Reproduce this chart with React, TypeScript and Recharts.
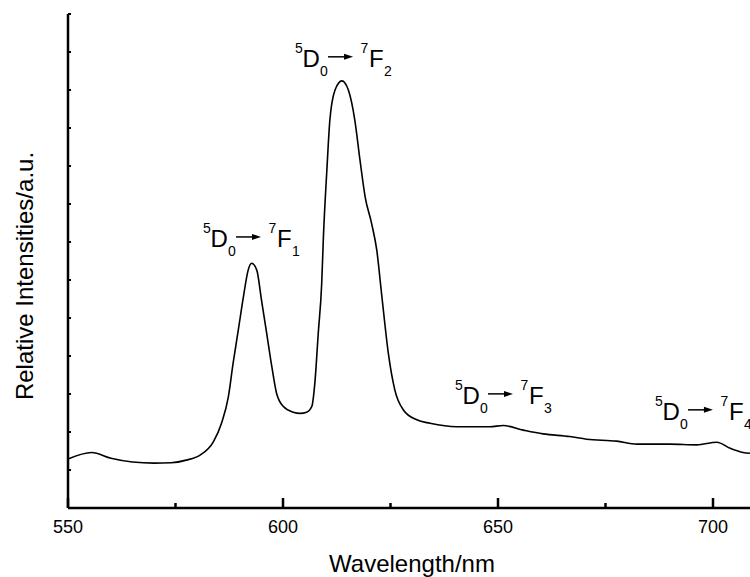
import { LineChart, Line, XAxis, YAxis, ReferenceDot, Label } from 'recharts'

const FONT = "Arial, 'Liberation Sans', sans-serif"

// emission spectrum
const wavelength = [
  550.0, 555.5, 560.0, 565.0, 570.0, 574.0, 577.5, 580.7, 583.8, 585.7, 587.3, 588.4, 589.6,
  590.8, 591.9, 592.7, 593.9, 595.0, 596.2, 597.4, 598.5, 600.1, 602.4, 604.0, 605.5, 606.7,
  607.4, 608.2, 609.0, 609.4, 610.2, 610.9, 612.1, 613.7, 615.2, 616.7, 617.9, 619.1, 620.6,
  621.8, 623.0, 624.5, 626.0, 628.0, 631.1, 634.2, 640.4, 648.1, 651.2, 655.9, 660.5, 666.7,
  670.6, 677.6, 682.3, 690.0, 696.2, 700.9, 704.0, 707.0, 708.6,
]
const intensity = [
  1.29, 1.46, 1.31, 1.21, 1.18, 1.19, 1.26, 1.39, 1.74, 2.23, 2.93, 3.81, 4.68,
  5.56, 6.26, 6.44, 6.26, 5.47, 4.6, 3.72, 3.02, 2.67, 2.52, 2.49, 2.52, 2.67,
  3.28, 4.6, 5.91, 7.14, 8.89, 10.21, 11.0, 11.24, 11.0, 10.21, 9.16, 8.19, 7.49,
  6.79, 5.56, 4.07, 3.11, 2.58, 2.32, 2.23, 2.14, 2.14, 2.17, 2.05, 1.95, 1.88,
  1.81, 1.76, 1.68, 1.68, 1.66, 1.73, 1.57, 1.46, 1.44,
]

const xTicks = [550, 575, 600, 625, 650, 675, 700]
const yTicks = [0, 1, 2, 3, 4, 5, 6, 7, 8, 9, 10, 11, 12, 13]

// 5D0 -> 7FJ labels, anchored in data units
const transitionX = [581.4, 602.8, 640.0, 686.5]
const transitionY = [6.87, 11.61, 2.74, 2.32]
const transitionJ = ['1', '2', '3', '4']

const data = wavelength.map((w, i) => ({ w, v: intensity[i] }))

function XTick(props: any) {
  const { x, y, payload } = props
  const major = payload.value % 50 === 0
  return (
    <g>
      <line x1={x} x2={x} y1={y} y2={y - (major ? 10 : 5)} stroke="#000" strokeWidth={2.5} />
      {major && (
        <text x={x} y={y + 25} textAnchor="middle" fontSize={18} fontFamily={FONT} fill="#000">
          {payload.value}
        </text>
      )}
    </g>
  )
}

function YTick(props: any) {
  const { x, y } = props
  return <line x1={x} x2={x + 3} y1={y} y2={y} stroke="#000" strokeWidth={2} />
}

function Transition({ cx, cy, j }: { cx: number; cy: number; j: string }) {
  const x = cx
  const y = cy
  return (
    <g fontFamily={FONT} fill="#000">
      <text x={x} y={y - 14} fontSize={14}>5</text>
      <text x={x + 7.5} y={y} fontSize={24}>D</text>
      <text x={x + 25} y={y + 9} fontSize={14}>0</text>
      <line x1={x + 33} x2={x + 51} y1={y - 10} y2={y - 10} stroke="#000" strokeWidth={1.5} />
      <polygon points={`${x + 58},${y - 10} ${x + 49},${y - 13} ${x + 49},${y - 7}`} fill="#000" />
      <text x={x + 65.5} y={y - 14} fontSize={14}>7</text>
      <text x={x + 74} y={y} fontSize={24}>F</text>
      <text x={x + 89} y={y + 9} fontSize={14}>{j}</text>
    </g>
  )
}

function YTitle(props: any) {
  const { viewBox } = props
  const cy = viewBox.y + viewBox.height / 2 + 15
  const cx = 33
  return (
    <text
      x={cx}
      y={cy}
      transform={`rotate(-90, ${cx}, ${cy})`}
      textAnchor="middle"
      fontSize={24}
      fontFamily={FONT}
      fill="#000"
    >
      Relative Intensities/a.u.
    </text>
  )
}

export default function App() {
  return (
    <div style={{ position: 'absolute', left: 0, top: 0, width: 750, height: 577, overflow: 'hidden', background: '#fff' }}>
      <LineChart
        width={770}
        height={577}
        data={data}
        margin={{ top: 14, right: 14, bottom: 0, left: 0 }}
        style={{ fontFamily: FONT }}
      >
        <XAxis
          dataKey="w"
          type="number"
          domain={[550, 710]}
          ticks={xTicks}
          interval={0}
          height={69}
          tickSize={0}
          tickMargin={0}
          tick={<XTick />}
          axisLine={{ stroke: '#000', strokeWidth: 2.5 }}
          tickLine={false}
          label={{ value: 'Wavelength/nm', position: 'insideBottom', offset: 5, fontSize: 24, fill: '#000' }}
        />
        <YAxis
          type="number"
          domain={[0, 13]}
          ticks={yTicks}
          interval={0}
          width={68}
          tickSize={0}
          tickMargin={0}
          tick={<YTick />}
          axisLine={{ stroke: '#000', strokeWidth: 2.5 }}
          tickLine={false}
        >
          <Label content={<YTitle />} />
        </YAxis>
        <Line
          type="monotone"
          dataKey="v"
          stroke="#000"
          strokeWidth={1.6}
          dot={false}
          activeDot={false}
          isAnimationActive={false}
        />
        {transitionX.map((tx, i) => (
          <ReferenceDot
            key={transitionJ[i]}
            x={tx}
            y={transitionY[i]}
            r={0}
            shape={(p: any) => <Transition cx={p.cx} cy={p.cy} j={transitionJ[i]} />}
          />
        ))}
      </LineChart>
    </div>
  )
}
